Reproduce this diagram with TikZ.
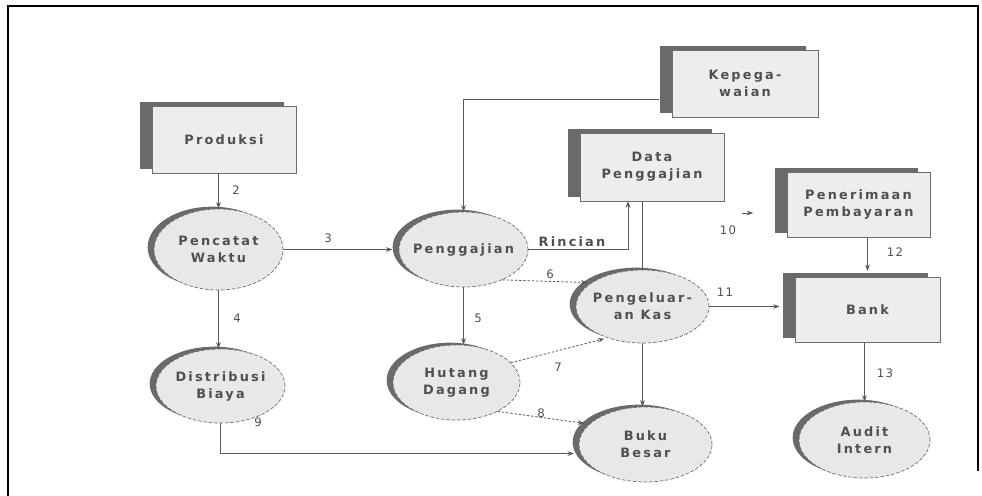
\documentclass[tikz,border=0pt]{standalone}
\usepackage{fontspec}
\newfontfamily\lblfont[LetterSpace=17]{DejaVu Sans Bold}
\newfontfamily\numfont[LetterSpace=10]{DejaVu Sans}
\usetikzlibrary{arrows.meta,shadows,shapes.geometric}
\definecolor{ink}{HTML}{505050}
\definecolor{linegray}{HTML}{5A5A5A}
\definecolor{boxfill}{HTML}{EDEDED}
\definecolor{boxline}{HTML}{6E6E6E}
\definecolor{shadowgray}{HTML}{6A6A6A}
\definecolor{procfill}{HTML}{E8E8E8}
\tikzset{
  txt/.style={font=\lblfont\fontsize{11}{14.5}\selectfont, text=ink, align=center, inner sep=0pt},
  num/.style={font=\numfont\fontsize{10}{12}\selectfont, text=ink, inner sep=0pt},
  entity/.style={rectangle, draw=boxline, line width=0.6pt, fill=boxfill, inner sep=0pt, txt,
    general shadow={fill=shadowgray, shadow xshift=-0.37cm, shadow yshift=0.13cm}},
  process/.style={ellipse, draw=boxline, line width=0.6pt, dash pattern=on 3pt off 1.6pt,
    fill=procfill, inner sep=0pt,
    general shadow={fill=shadowgray, shadow xshift=-0.19cm, shadow yshift=0.07cm}},
  flow/.style={draw=linegray, line width=0.7pt, -{Stealth[length=5.5pt,width=4pt]}},
  dflow/.style={flow, dash pattern=on 2pt off 1.6pt},
  plain/.style={draw=linegray, line width=0.7pt},
}
\begin{document}
\begin{tikzpicture}[x=0.03cm,y=-0.03cm]
\useasboundingbox (0,0) rectangle (982,495);
\fill[white] (0,0) rectangle (982,495);
% page frame
\draw[line width=1.5pt, line cap=rect] (978,470) -- (978,6) -- (8,6) -- (8,495);

% external entities
\node[entity, minimum width=4.32cm, minimum height=2.01cm] (prod) at (224,139.5) {Produksi};
\node[entity, minimum width=4.38cm, minimum height=2.01cm] (kep) at (745,83.5) {Kepega-\\waian};
\node[entity, minimum width=4.32cm, minimum height=2.04cm] (dp) at (652,167) {Data\\Penggajian};
\node[entity, minimum width=4.29cm, minimum height=1.95cm] (pen) at (858.5,204.5) {Penerimaan\\Pembayaran};
\node[entity, minimum width=4.35cm, minimum height=1.95cm] (bank) at (867.5,309.5) {Bank};

% processes
\node[process, minimum width=3.87cm, minimum height=2.43cm, label={[txt]center:Pencatat\\Waktu}] (pw) at (218.5,249.5) {};
\node[process, minimum width=3.87cm, minimum height=2.25cm, label={[txt]center:Penggajian}] (pg) at (463.5,249.5) {};
\node[process, minimum width=3.99cm, minimum height=2.19cm, label={[txt]center:Pengeluar-\\an Kas}] (pk) at (642.5,306.5) {};
\node[process, minimum width=3.87cm, minimum height=2.22cm, label={[txt]center:Distribusi\\Biaya}] (db) at (220.5,386) {};
\node[process, minimum width=3.81cm, minimum height=2.25cm, label={[txt]center:Hutang\\Dagang}] (hd) at (456.5,382.5) {};
\node[process, minimum width=3.99cm, minimum height=2.25cm, label={[txt]center:Buku\\Besar}] (bb) at (645.5,444.5) {};
\node[process, minimum width=3.93cm, minimum height=2.28cm, label={[txt]center:Audit\\Intern}] (au) at (864.5,440) {};

% data flows
\draw[flow] (prod.south -| pw.north) -- (pw.north);
\draw[flow, shorten >=0.19cm] (pw.east) -- (pg.west);
\draw[flow] (pw.south) -- (pw.south |- db.north);
\draw[flow, shorten >=0.2cm] (db.south) |- (bb.188);
\draw[flow] ([xshift=-0.39cm,yshift=-0.47cm]kep.west) -| (pg.north);
\draw[flow] (pg.east) -| ([xshift=-0.72cm]dp.south);
\node[txt, fill=white, inner sep=1pt] (rinc) at (572,242) {Rincian};
\draw[plain] (pk.north) -- (pk.north |- dp.south);
\draw[dflow, shorten >=0.12cm] (pg.-38) -- (pk.155);
\draw[flow] (pg.south) -- (pg.south |- hd.north);
\draw[dflow, shorten >=0.1cm] (hd.20) -- (pk.222);
\draw[dflow, shorten >=0.15cm] (hd.-35) -- (bb.160);
\draw[flow] (pk.south) -- (pk.south |- bb.north);
\draw[flow, shorten >=0.45cm] (pk.east) -- (pk.east -| bank.west);
\coordinate (t10) at (742,213);
\draw[flow, shorten >=1.0cm] (t10) -- (pen.west |- t10);
\draw[flow, shorten >=0.17cm] (pen.south -| bank.north) -- (bank.north);
\draw[flow] (bank.south -| au.north) -- (au.north);

% flow numbers
\node[num] (n2) at (236,190) {2};
\node[num] (n3) at (328,238) {3};
\node[num] (n4) at (237,318) {4};
\node[num] (n5) at (478,318) {5};
\node[num] (n6) at (550,274) {6};
\node[num] (n7) at (558,367) {7};
\node[num] (n8) at (541,413) {8};
\node[num] (n9) at (258,422) {9};
\node[num] (n10) at (728,230) {10};
\node[num] (n11) at (725,292) {11};
\node[num] (n12) at (895,252) {12};
\node[num] (n13) at (885,373) {13};
\end{tikzpicture}
\end{document}
